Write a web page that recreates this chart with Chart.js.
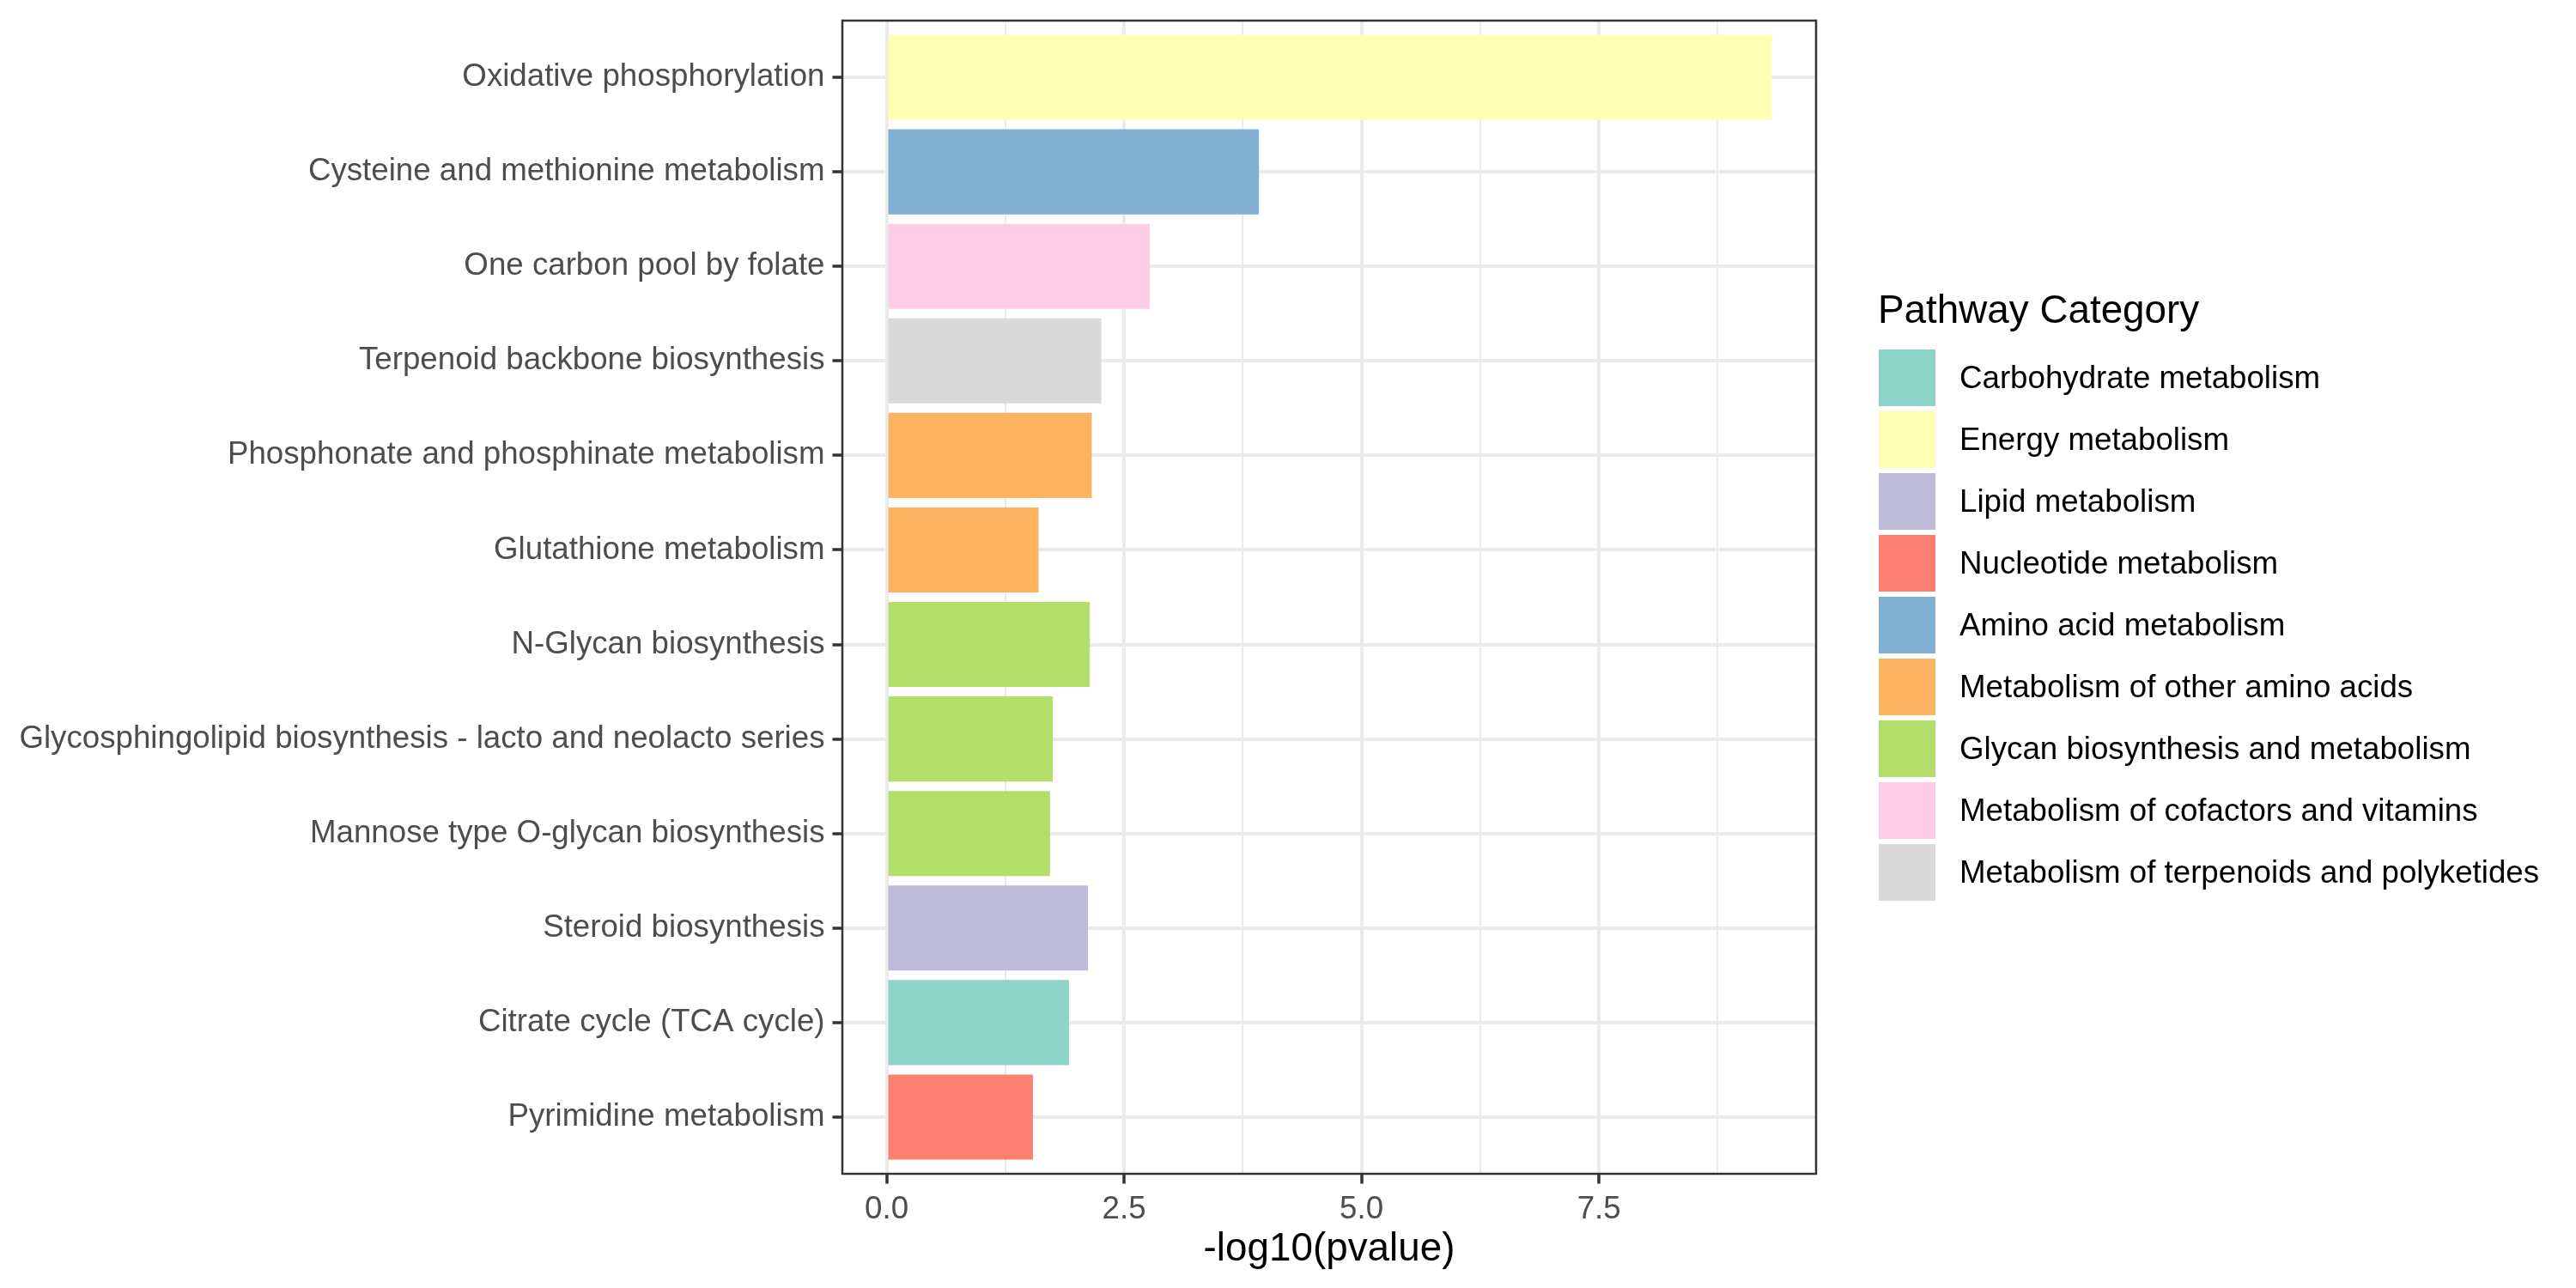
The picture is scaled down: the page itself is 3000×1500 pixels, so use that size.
<!DOCTYPE html>
<html>
<head>
<meta charset="utf-8">
<script src="https://cdn.jsdelivr.net/npm/chart.js@4.4.1/dist/chart.umd.min.js"></script>
<style>
  html, body { margin: 0; padding: 0; background: #ffffff; }
  #wrap { position: relative; width: 3000px; height: 1500px; }
  #chart { position: absolute; left: 0; top: 0; }
  #legend { position: absolute; left: 2188px; top: 338px; font-family: "Liberation Sans", Arial, sans-serif; }
  #legend .title { font-size: 45.8px; line-height: 45.8px; color: #000000; height: 66px; margin-left: -1px; }
  #legend .row { display: flex; align-items: center; height: 72px; }
  #legend .key { width: 66px; height: 66px; }
  #legend .label { font-size: 36.7px; line-height: 36.7px; color: #000000; margin-left: 28px; white-space: nowrap; }
</style>
</head>
<body>
<div id="wrap">
  <canvas id="chart" width="3000" height="1500"></canvas>
  <div id="legend"></div>
</div>
<script>
// pathways, top to bottom
const pathways = [
  "Oxidative phosphorylation",
  "Cysteine and methionine metabolism",
  "One carbon pool by folate",
  "Terpenoid backbone biosynthesis",
  "Phosphonate and phosphinate metabolism",
  "Glutathione metabolism",
  "N-Glycan biosynthesis",
  "Glycosphingolipid biosynthesis - lacto and neolacto series",
  "Mannose type O-glycan biosynthesis",
  "Steroid biosynthesis",
  "Citrate cycle (TCA cycle)",
  "Pyrimidine metabolism"
];
const pathwayValues = [9.32, 3.92, 2.77, 2.26, 2.16, 1.60, 2.14, 1.75, 1.72, 2.12, 1.92, 1.54];
const pathwayCategory = [
  "Energy metabolism",
  "Amino acid metabolism",
  "Metabolism of cofactors and vitamins",
  "Metabolism of terpenoids and polyketides",
  "Metabolism of other amino acids",
  "Metabolism of other amino acids",
  "Glycan biosynthesis and metabolism",
  "Glycan biosynthesis and metabolism",
  "Glycan biosynthesis and metabolism",
  "Lipid metabolism",
  "Carbohydrate metabolism",
  "Nucleotide metabolism"
];

// legend order
const categoryNames = [
  "Carbohydrate metabolism",
  "Energy metabolism",
  "Lipid metabolism",
  "Nucleotide metabolism",
  "Amino acid metabolism",
  "Metabolism of other amino acids",
  "Glycan biosynthesis and metabolism",
  "Metabolism of cofactors and vitamins",
  "Metabolism of terpenoids and polyketides"
];
const categoryColors = ["#8DD3C7", "#FFFFB3", "#BEBADA", "#FB8072", "#80B1D3", "#FDB462", "#B3DE69", "#FCCDE5", "#D9D9D9"];

const xMajorTicks = [0, 2.5, 5, 7.5];
const xMinorTicks = [1.25, 3.75, 6.25, 8.75];
const xTickLabels = ["0.0", "2.5", "5.0", "7.5"];

const FONT = "'Liberation Sans', Arial, sans-serif";

// ggplot-like 5% expansion
const xMax = Math.max(...pathwayValues);
const xPad = xMax * 0.05;

const colorOf = name => categoryColors[categoryNames.indexOf(name)];

// panel border drawn on top, like theme_bw
const panelBorder = {
  id: "panelBorder",
  afterDraw(chart) {
    const { ctx, chartArea: a } = chart;
    ctx.save();
    ctx.strokeStyle = "#333333";
    ctx.lineWidth = 2.5;
    ctx.strokeRect(a.left, a.top, a.right - a.left, a.bottom - a.top);
    ctx.restore();
  }
};

const isMajor = v => xMajorTicks.some(t => Math.abs(t - v) < 1e-9);

new Chart(document.getElementById("chart"), {
  type: "bar",
  data: {
    datasets: [{
      data: pathwayValues.map((v, i) => ({ x: v, y: i })),
      backgroundColor: pathwayCategory.map(colorOf),
      borderWidth: 0,
      barPercentage: 1,
      categoryPercentage: 0.9
    }]
  },
  options: {
    indexAxis: "y",
    responsive: false,
    animation: false,
    devicePixelRatio: 1,
    layout: { padding: { left: 0, top: 24, right: 885, bottom: 0 } },
    plugins: {
      legend: { display: false },
      tooltip: { enabled: false }
    },
    scales: {
      x: {
        type: "linear",
        min: -xPad,
        max: xMax + xPad,
        afterBuildTicks: scale => {
          scale.ticks = [...xMajorTicks, ...xMinorTicks].sort((a, b) => a - b).map(v => ({ value: v }));
        },
        afterFit: scale => {
          scale.height = 133;
          scale.paddingLeft = 0;
          scale.paddingRight = 0;
        },
        ticks: {
          autoSkip: false,
          maxRotation: 0,
          minRotation: 0,
          padding: 8,
          color: "#4D4D4D",
          font: { family: FONT, size: 36.7 },
          callback: v => {
            const k = xMajorTicks.findIndex(t => Math.abs(t - v) < 1e-9);
            return k >= 0 ? xTickLabels[k] : "";
          }
        },
        grid: {
          color: "#EBEBEB",
          lineWidth: c => (c.tick && isMajor(c.tick.value) ? 4 : 2),
          tickColor: c => (c.tick && isMajor(c.tick.value) ? "#333333" : "rgba(0,0,0,0)"),
          tickWidth: 3.5,
          tickLength: 11.5
        },
        border: { display: false },
        title: {
          display: true,
          text: "-log10(pvalue)",
          color: "#000000",
          font: { family: FONT, size: 45.8 },
          padding: { top: 0, bottom: 17 }
        }
      },
      y: {
        type: "linear",
        reverse: true,
        offset: false,
        min: -0.6,
        max: pathways.length - 1 + 0.6,
        afterBuildTicks: scale => {
          scale.ticks = pathways.map((_, i) => ({ value: i }));
        },
        afterFit: scale => {
          scale.width = 981;
          scale.paddingTop = 0;
          scale.paddingBottom = 0;
        },
        ticks: {
          autoSkip: false,
          padding: 9,
          color: "#4D4D4D",
          font: { family: FONT, size: 36.7 },
          callback: v => pathways[v]
        },
        grid: {
          offset: false,
          color: "#EBEBEB",
          lineWidth: 4,
          tickColor: "#333333",
          tickWidth: 3.5,
          tickLength: 11.5
        },
        border: { display: false }
      }
    }
  },
  plugins: [panelBorder]
});

// legend
const legend = document.getElementById("legend");
legend.innerHTML = '<div class="title">Pathway Category</div>' +
  categoryNames.map((name, i) =>
    `<div class="row"><div class="key" style="background:${categoryColors[i]}"></div><div class="label">${name}</div></div>`
  ).join("");
</script>
</body>
</html>
